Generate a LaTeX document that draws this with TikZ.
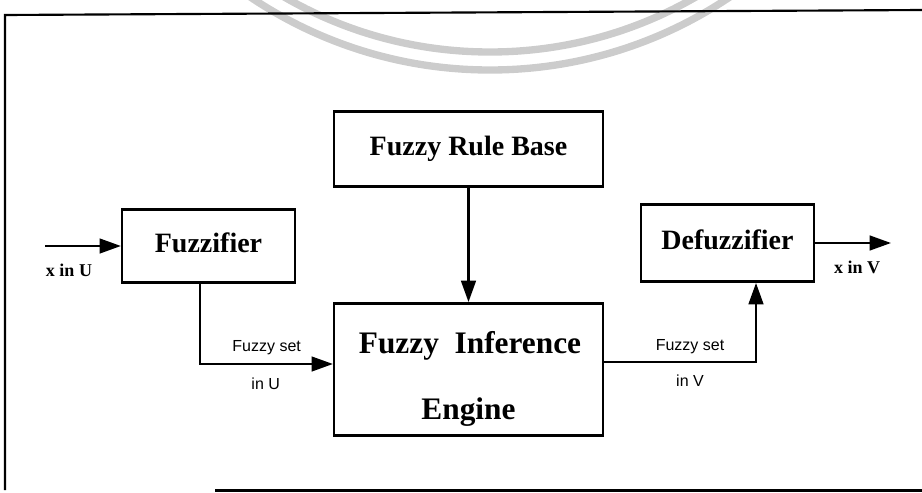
\documentclass[tikz,border=0pt]{standalone}
\usepackage{fontspec}
\setmainfont{Liberation Serif}
\newfontfamily\labelfont{Liberation Sans}
\usetikzlibrary{arrows.meta}
\begin{document}
\begin{tikzpicture}[x=0.75pt,y=-0.75pt,
  blockbox/.style={draw=black,line width=1.9pt,fill=white,inner sep=0pt,
    text height=14pt,text depth=4pt,font=\fontsize{21}{25}\selectfont\bfseries},
  flow/.style={line width=1.8pt,line join=miter,-{Triangle[length=16pt,width=11pt]}},
  smalllabel/.style={anchor=base,inner sep=0pt,font=\labelfont\fontsize{12}{14}\selectfont},
  iolabel/.style={anchor=base,inner sep=0pt,font=\fontsize{13.5}{16}\selectfont\bfseries},
  enginetext/.style={anchor=base,inner sep=0pt,font=\fontsize{23.5}{28}\selectfont\bfseries},
  framerule/.style={line width=1.6pt},
  wmark/.style={line width=5.5pt,draw=black!20}
]
\useasboundingbox (0,0) rectangle (922,493);
% faint watermark arcs
\begin{scope}
  \clip (0,0) rectangle (922,493);
  \draw[wmark] (490,-360) circle[radius=430];
  \draw[wmark] (490,-360) circle[radius=412];
\end{scope}
% frame
\draw[framerule] (922,10) -- (5,15) -- (5,490);
\draw[framerule] (215,490.5) -- (922,490.5);
% blocks
\node[blockbox,minimum width=201.5pt,minimum height=56.5pt] (rule) at (468.5,149) {Fuzzy Rule Base};
\node[blockbox,minimum width=129.5pt,minimum height=55pt] (fuzz) at (208.5,246) {Fuzzifier};
\node[blockbox,minimum width=129.5pt,minimum height=58pt] (defuzz) at (727.5,243) {Defuzzifier};
\node[blockbox,minimum width=201.5pt,minimum height=99.25pt] (engine) at (468.5,369.5) {};
\node[enginetext] (eng1) at (470,353.3) {Fuzzy\ \ Inference};
\node[enginetext] (eng2) at (468.5,419.3) {Engine};
% connectors
\coordinate (inpt) at (45,246);
\draw[flow] (inpt) -- (fuzz.west);
\draw[flow] (rule.south) -- (engine.north);
\coordinate (bend1) at (200,364);
\draw[flow] (fuzz.south -| bend1) -- (bend1) -- (engine.west |- bend1);
\coordinate (bend2) at (756,362);
\draw[flow] (engine.east |- bend2) -- (bend2) -- (defuzz.south -| bend2);
\coordinate (outpt) at (891,243);
\draw[flow] (defuzz.east) -- (outpt);
% labels
\node[iolabel] (xu) at (69,276.7) {x in U};
\node[iolabel] (xv) at (857,273) {x in V};
\node[smalllabel] (fs1) at (266.7,351.7) {Fuzzy set};
\node[smalllabel] (iu) at (265.7,389.3) {in U};
\node[smalllabel] (fs2) at (690,350) {Fuzzy set};
\node[smalllabel] (iv) at (690,386) {in V};
\end{tikzpicture}
\end{document}
